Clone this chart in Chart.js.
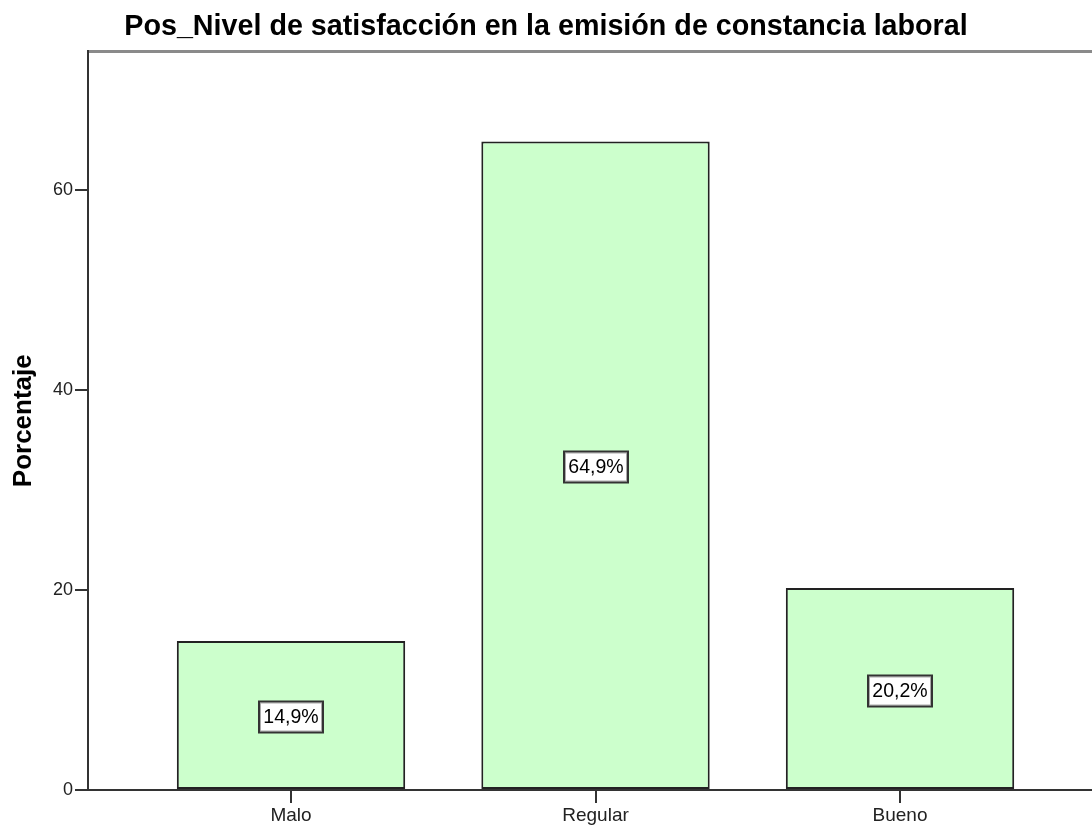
<!DOCTYPE html>
<html><head><meta charset="utf-8">
<script src="https://cdn.jsdelivr.net/npm/chart.js@4.4.0/dist/chart.umd.min.js"></script>
<style>html,body{margin:0;padding:0;background:#fff;overflow:hidden}#wrap{width:1092px;height:827px}</style>
</head><body><div id="wrap"><canvas id="c" width="1092" height="827"></canvas></div>
<script>
const titleText = 'Pos_Nivel de satisfacción en la emisión de constancia laboral';
const categories = ['Malo', 'Regular', 'Bueno'];
const percentages = [14.9, 64.9, 20.2];
const valueLabels = ['14,9%', '64,9%', '20,2%'];
const yTicks = [0, 20, 40, 60];
const yAxisTitle = 'Porcentaje';

const FONT = '"Liberation Sans", Arial, sans-serif';

const labelPlugin = {
  id: 'boxLabels',
  afterDatasetsDraw(chart) {
    const ctx = chart.ctx;
    const meta = chart.getDatasetMeta(0);
    ctx.save();
    ctx.font = '19.5px ' + FONT;
    ctx.textAlign = 'center';
    ctx.textBaseline = 'middle';
    meta.data.forEach((bar, i) => {
      const txt = valueLabels[i];
      const cx = Math.round(bar.x);
      const cy = Math.round((bar.y + bar.base) / 2 + 2);
      const w = Math.round(ctx.measureText(txt).width + 9);
      const h = 31;
      const x0 = cx - w / 2, y0 = cy - h / 2;
      ctx.fillStyle = '#ffffff';
      ctx.fillRect(x0, y0, w, h);
      ctx.strokeStyle = '#aaa';
      ctx.lineWidth = 1;
      ctx.strokeRect(x0 + 1.5, y0 + 1.5, w - 3, h - 3);
      ctx.strokeStyle = '#333';
      ctx.lineWidth = 2;
      ctx.strokeRect(x0, y0, w, h);
      ctx.fillStyle = '#000';
      ctx.fillText(txt, cx, cy + 1);
    });
    ctx.restore();
  }
};

new Chart(document.getElementById('c'), {
  type: 'bar',
  data: {
    datasets: [{
      data: percentages.map((v, i) => ({ x: i, y: v })),
      backgroundColor: '#ccffcc',
      borderColor: '#222',
      borderWidth: 2,
      borderSkipped: false,
      barPercentage: 0.75,
      categoryPercentage: 1.0
    }]
  },
  options: {
    responsive: false,
    animation: false,
    layout: { padding: 0 },
    plugins: {
      legend: { display: false },
      tooltip: { enabled: false },
      title: {
        display: true,
        text: titleText,
        color: '#000',
        font: { family: FONT, size: 28.7, weight: 'bold' },
        padding: { top: 10, bottom: 7 }
      }
    },
    scales: {
      x: {
        type: 'linear',
        position: 'bottom',
        offset: false,
        min: -0.6667,
        max: 2.6305,
        afterBuildTicks: s => { s.ticks = categories.map((c, i) => ({ value: i })); },
        afterFit: s => { s.height = 37; },
        ticks: {
          callback: (v) => categories[v],
          color: '#222',
          font: { family: FONT, size: 19 },
          padding: 1,
          maxRotation: 0,
          autoSkip: false
        },
        grid: { offset: false, drawOnChartArea: false, drawTicks: true, tickLength: 13, color: '#333', lineWidth: 2 },
        border: { display: true, color: '#333', width: 2 }
      },
      x2: {
        type: 'linear',
        position: 'top',
        offset: false,
        min: 0, max: 1,
        afterFit: s => { s.height = 0; },
        ticks: { display: false },
        grid: { display: false, drawTicks: false },
        border: { display: true, color: '#8a8a8a', width: 3 }
      },
      y: {
        min: 0,
        max: 73.9,
        afterBuildTicks: s => { s.ticks = yTicks.map(v => ({ value: v })); },
        afterFit: s => { s.width = 88; },
        ticks: {
          color: '#222',
          font: { family: FONT, size: 18 },
          padding: 2
        },
        grid: { drawOnChartArea: false, drawTicks: true, tickLength: 13, color: '#333', lineWidth: 2 },
        border: { display: true, color: '#333', width: 2 },
        title: {
          display: true,
          text: yAxisTitle,
          color: '#000',
          font: { family: FONT, size: 26, weight: 'bold' },
          padding: { top: 8, bottom: 0 }
        }
      }
    }
  },
  plugins: [labelPlugin]
});
</script>
</body></html>
